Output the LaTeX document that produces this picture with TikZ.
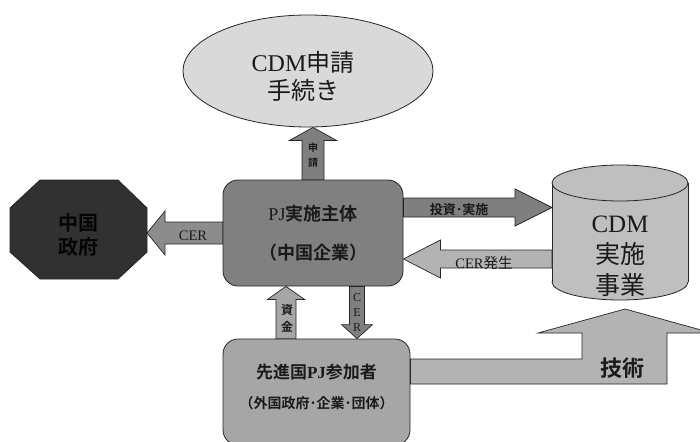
\documentclass[tikz,border=0pt]{standalone}
\usepackage{fontspec}
\setmainfont{Liberation Serif}
\newfontfamily\jp{Noto Sans CJK JP}[BoldFont={Noto Sans CJK JP Bold}]
\usetikzlibrary{calc,shapes.geometric}
\definecolor{ellfill}{HTML}{D9D9D9}
\definecolor{pjfill}{HTML}{808080}
\definecolor{govfill}{HTML}{313131}
\definecolor{govtext}{HTML}{050505}
\definecolor{cylfill}{HTML}{BFBFBF}
\definecolor{devfill}{HTML}{A6A6A6}
\definecolor{edge}{HTML}{262626}
\definecolor{arrA}{HTML}{7F7F7F}
\definecolor{arrB}{HTML}{8C8C8C}
\definecolor{arrC}{HTML}{B3B3B3}
\definecolor{arrD}{HTML}{A6A6A6}
\definecolor{ink}{HTML}{1A1A1A}
% block arrow: #1 style, #2 tail, #3 tip, #4 shaft half width, #5 head half width, #6 head length
\newcommand\blockarr[6]{%
  \coordinate (baH) at ($(#3)!#6!(#2)$);
  \filldraw[#1] ($(#2)!#4!90:(#3)$) -- ($(baH)!#4!90:(#3)$) -- ($(baH)!#5!90:(#3)$)
    -- (#3) -- ($(baH)!#5!-90:(#3)$) -- ($(baH)!#4!-90:(#3)$) -- ($(#2)!#4!-90:(#3)$) -- cycle;}
\begin{document}
\begin{tikzpicture}[x=1pt,y=-1pt,
  outline/.style={draw=edge, line width=0.8pt},
  txt/.style={text=ink, align=center, inner sep=0pt},
  govtxt/.style={text=govtext, align=center, inner sep=0pt},
  ellbox/.style={outline, ellipse, fill=ellfill, minimum width=250pt, minimum height=112pt, inner sep=0pt},
  pjbox/.style={outline, rectangle, rounded corners=15pt, fill=pjfill, minimum width=180pt, minimum height=106pt, text=ink, align=center, inner sep=0pt},
  devbox/.style={outline, rectangle, rounded corners=15pt, fill=devfill, minimum width=187pt, minimum height=106pt, inner sep=0pt},
  arrowbody/.style={draw=edge, line width=0.7pt, fill=#1},
]
\useasboundingbox (0,0) rectangle (700,441);
\clip (0,0) rectangle (700,441);
\fill[white] (0,0) rectangle (700,441);

% --- CDM application ellipse
\node[ellbox] (req) at (308,71) {};
\node[txt, font=\fontsize{24}{28}\selectfont] (reqtxt) at (303,76) {CDM{\jp 申請}\\{\jp 手続き}};

% --- Chinese government octagon
\filldraw[outline, fill=govfill] (40,180) -- (118,180) -- (147,208) -- (147,252) -- (118,279) -- (40,279) -- (10,252) -- (10,208) -- cycle;
\coordinate (govE) at (147,233);
\node[govtxt, font=\jp\bfseries\fontsize{20}{24}\selectfont] (gov) at (78,235) {中国\\政府};

% --- PJ main body
\node[pjbox, font=\fontsize{18}{39}\selectfont] (pj) at (313,233) {PJ{\jp\bfseries 実施主体}\\{\jp\bfseries （中国企業）}};

% --- CDM project cylinder
\filldraw[outline, fill=cylfill] (620,282) ellipse[x radius=68, y radius=18];
\fill[cylfill] (552,183) rectangle (688,282);
\draw[outline] (552,183) -- (552,282);
\draw[outline] (688,183) -- (688,282);
\filldraw[outline, fill=cylfill] (620,183) ellipse[x radius=68, y radius=18];
\node[txt, font=\fontsize{25}{31}\selectfont] (cyl) at (620,256) {CDM\\{\jp 実施}\\{\jp 事業}};
\coordinate (cylA) at (552,207.5);
\coordinate (cylB) at (552,259);

% --- developed-country participants
\node[devbox] (dev) at (316.5,392) {};
\node[txt, font=\fontsize{17}{30}\selectfont] (devtxt) at (316.5,387)
  {{\jp\bfseries 先進国}{\bfseries PJ}{\jp\bfseries 参加者}\\{\jp\bfseries\fontsize{14}{30}\selectfont （外国政府･企業･団体）}};

% --- arrows
\coordinate (a1e) at (pj.north |- req.south);
\blockarr{arrowbody=arrA}{pj.north}{a1e}{11pt}{23.5pt}{13pt}
\node[txt, font=\jp\bfseries\fontsize{10}{15}\selectfont] (lbl1) at (313,155.5) {申\\請};

\blockarr{arrowbody=arrB}{pj.west}{govE}{11pt}{22pt}{18pt}
\node[txt, font=\fontsize{14.5}{16}\selectfont] (lbl2) at (193,236) {CER};

\coordinate (a3s) at (pj.east |- cylA);
\blockarr{arrowbody=arrA}{a3s}{cylA}{9.5pt}{18.5pt}{37pt}
\node[txt, font=\jp\bfseries\fontsize{13}{16}\selectfont] (lbl3) at (459,210) {投資･実施};

\coordinate (a4e) at (pj.east |- cylB);
\blockarr{arrowbody=arrC}{cylB}{a4e}{9pt}{19pt}{37pt}
\node[txt, font=\fontsize{14.5}{16}\selectfont] (lbl4) at (484,263) {CER{\jp 発生}};

\coordinate (finS) at ($(dev.north)+(-30.5,0)$);
\coordinate (finE) at (finS |- pj.south);
\blockarr{arrowbody=arrD}{finS}{finE}{10pt}{18.5pt}{13pt}
\node[txt, font=\jp\bfseries\fontsize{12}{17}\selectfont] (lbl5) at (287,318.5) {資\\金};

\coordinate (cerT) at ($(pj.south)+(44,0)$);
\coordinate (cerB) at (cerT |- dev.north);
\blockarr{arrowbody=arrA}{cerT}{cerB}{7.5pt}{15.5pt}{14pt}
\node[txt, font=\fontsize{12}{15}\selectfont] (lbl6) at (357,313) {C\\E\\R};

% technology arrow
\filldraw[arrowbody=arrC] ($(dev.east)+(0,-33)$) -- (582,359) -- (582,333) -- (538,333) -- (625,309)
  -- (712,333) -- (667,333) -- (667,384) -- ($(dev.east)+(0,-8)$) -- cycle;
\node[txt, font=\jp\bfseries\fontsize{22}{26}\selectfont] (lbl7) at (622,368) {技術};
\end{tikzpicture}
\end{document}
